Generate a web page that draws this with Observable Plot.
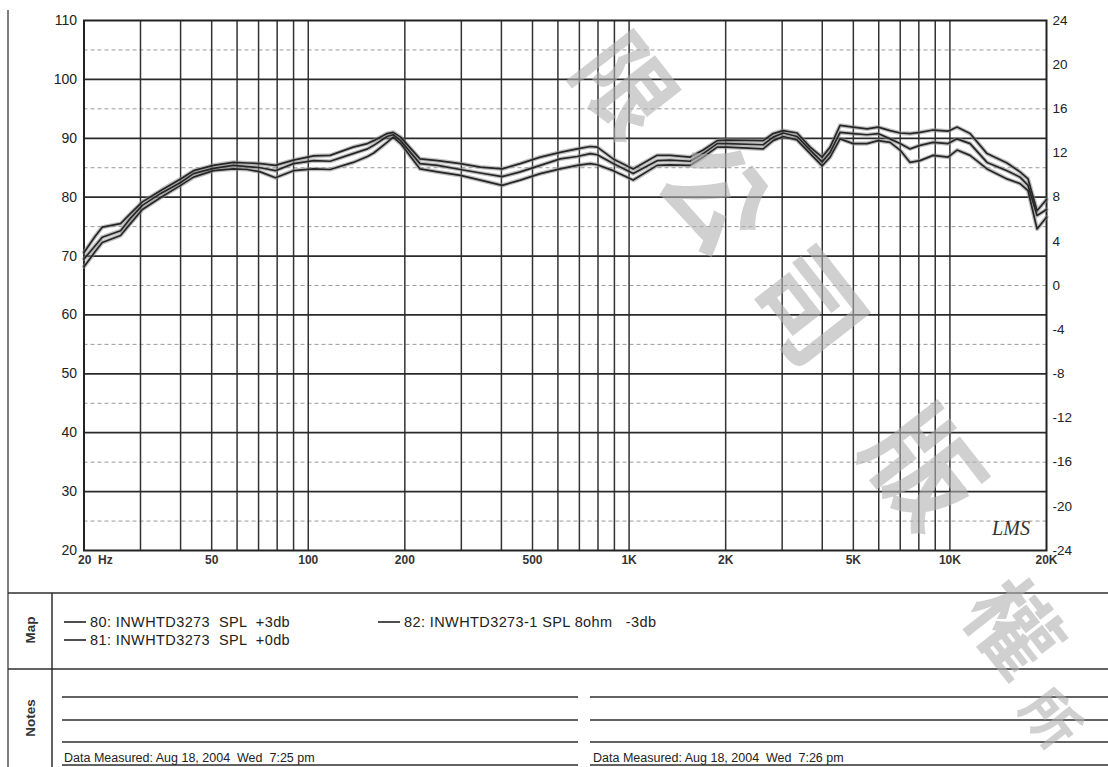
<!DOCTYPE html>
<html>
<head>
<meta charset="utf-8">
<script src="https://cdn.jsdelivr.net/npm/d3@7"></script>
<script src="https://cdn.jsdelivr.net/npm/@observablehq/plot@0.6"></script>
<style>
  html, body { margin: 0; padding: 0; background: #fff; }
  #wrap { position: relative; width: 1108px; height: 767px; overflow: hidden; background: #fff;
          font-family: Arial, "Liberation Sans", Helvetica, sans-serif; }
  #chart { position: absolute; left: 0; top: 0; }
  svg.overlay { position: absolute; left: 0; top: 0; pointer-events: none; }
  .pre { white-space: pre; }
</style>
</head>
<body>
<div id="wrap">
  <div id="chart"></div>
</div>
<script>
// ---------------- data ----------------
const freqHz = [20, 21.7, 22.8, 26, 27.9, 30.4, 34.6, 40, 43.9, 50.6,
  58.4, 64.6, 70.9, 79, 89.9, 104, 117, 138, 153, 160,
  176, 184, 194, 223, 253, 298, 344, 402, 458, 529,
  610, 689, 757, 796, 892, 1030, 1223, 1343, 1550, 1702,
  1882, 2022, 2618, 2812, 3022, 3340, 3668, 3996, 4232, 4546,
  4992, 5518, 5972, 6510, 6992, 7512, 8070, 8862, 9866, 10524,
  11556, 13052, 15064, 16540, 17520, 18690, 20000];

const spl80 = [70.6, 73.4, 74.9, 75.5, 77.2, 79.2, 81.1, 83.1, 84.5, 85.4,
  85.9, 85.8, 85.7, 85.4, 86.3, 87.0, 87.1, 88.5, 89.1, 89.6,
  90.8, 91.0, 90.2, 86.5, 86.2, 85.7, 85.1, 84.8, 85.7, 86.8,
  87.6, 88.2, 88.6, 88.5, 86.5, 84.8, 87.1, 87.1, 86.8, 88.0,
  89.6, 89.7, 89.6, 90.8, 91.3, 90.9, 88.5, 86.8, 88.5, 92.2,
  91.9, 91.6, 91.9, 91.3, 90.9, 90.8, 91.0, 91.4, 91.2, 91.9,
  90.8, 87.4, 85.8, 84.3, 83.1, 77.7, 79.6];

const spl81 = [69.5, 71.8, 73.2, 74.3, 76.4, 78.6, 80.6, 82.5, 84.0, 84.9,
  85.4, 85.2, 85.0, 84.5, 85.7, 86.2, 86.1, 87.4, 88.2, 88.8,
  90.3, 90.6, 89.6, 85.7, 85.4, 84.7, 84.1, 83.5, 84.3, 85.4,
  86.5, 86.9, 87.4, 87.2, 85.7, 84.0, 86.2, 86.3, 86.1, 87.4,
  89.1, 89.1, 88.9, 90.2, 90.9, 90.3, 88.0, 86.0, 87.6, 91.0,
  90.8, 90.6, 90.8, 89.9, 89.1, 88.2, 88.8, 89.3, 89.1, 89.9,
  89.1, 85.9, 84.5, 83.4, 82.0, 76.9, 77.9];

const spl82 = [68.2, 70.8, 72.3, 73.5, 75.5, 77.9, 79.9, 82.0, 83.4, 84.5,
  84.8, 84.7, 84.3, 83.3, 84.5, 84.8, 84.7, 85.9, 86.9, 87.5,
  89.3, 90.2, 89.1, 84.8, 84.3, 83.7, 82.9, 82.0, 82.9, 84.0,
  84.8, 85.4, 85.7, 85.5, 84.5, 82.9, 85.4, 85.5, 85.4, 86.8,
  88.5, 88.5, 88.2, 89.6, 90.3, 89.7, 87.4, 85.3, 86.8, 89.9,
  89.1, 89.1, 89.6, 89.3, 88.0, 85.9, 86.2, 87.1, 86.8, 88.0,
  87.1, 84.8, 83.1, 82.3, 81.1, 74.6, 76.6];

const seriesNames = ["80", "81", "82"];
const legendLabels = [
  "80: INWHTD3273  SPL  +3db",
  "81: INWHTD3273  SPL  +0db",
  "82: INWHTD3273-1 SPL 8ohm   -3db"
];

const xTickValues = [20, 50, 100, 200, 500, 1000, 2000, 5000, 10000, 20000];
const xTickLabels = ["20\u00a0\u00a0Hz", "50", "100", "200", "500", "1K", "2K", "5K", "10K", "20K"];
const xGridValues = [30, 40, 50, 60, 70, 80, 90, 100, 200, 300, 400, 500, 600, 700, 800, 900,
  1000, 2000, 3000, 4000, 5000, 6000, 7000, 8000, 9000, 10000];

const yLeftTicks = [20, 30, 40, 50, 60, 70, 80, 90, 100, 110];
const yMajorGrid = [30, 40, 50, 60, 70, 80, 90, 100];
const yMinorGrid = [25, 35, 45, 55, 65, 75, 85, 95, 105];
const yRightTicks = [24, 20, 16, 12, 8, 4, 0, -4, -8, -12, -16, -20, -24];

const notesDates = ["Data Measured: Aug 18, 2004  Wed  7:25 pm", "Data Measured: Aug 18, 2004  Wed  7:26 pm"];
const watermarkChars = ["限", "公", "司", "版", "權", "所"];

// right axis (dB relative) maps linearly onto the left SPL axis: -24 -> 20, +24 -> 110
const rightToLeft = r => 20 + (r + 24) * 90 / 48;
const leftToRight = v => Math.round((v - 20) * 48 / 90 - 24);

// ---------------- build rows ----------------
const allSeries = [spl80, spl81, spl82];
const rows = [];
allSeries.forEach((vals, si) => {
  vals.forEach((v, i) => rows.push({s: seriesNames[si], f: freqHz[i], v}));
});
const xLabelMap = new Map(xTickValues.map((d, i) => [d, xTickLabels[i]]));

const FONT = "Arial, 'Liberation Sans', Helvetica, sans-serif";

const chart = Plot.plot({
  width: 1108,
  height: 580,
  marginLeft: 83.5,
  marginRight: 62,
  marginTop: 20,
  marginBottom: 30,
  style: {fontFamily: FONT, color: "#222", background: "transparent", overflow: "visible"},
  x: {type: "log", domain: [20, 20000], axis: null, label: null},
  y: {domain: [20, 110], axis: null, label: null},
  marks: [
    Plot.ruleY(yMinorGrid, {stroke: "#9a9a9a", strokeWidth: 1, strokeDasharray: "4,3"}),
    Plot.ruleX(xGridValues, {stroke: "#333", strokeWidth: 1.5}),
    Plot.ruleY(yMajorGrid, {stroke: "#2a2a2a", strokeWidth: 1.7}),
    Plot.frame({stroke: "#222", strokeWidth: 2}),
    // scan-like halo then dark core for the three curves
    Plot.line(rows, {x: "f", y: "v", z: "s", stroke: "#8d8d8d", strokeWidth: 4.2, strokeOpacity: 0.55}),
    Plot.line(rows, {x: "f", y: "v", z: "s", stroke: "#262626", strokeWidth: 1.7}),
    // left axis
    Plot.axisY(yLeftTicks, {anchor: "left", tickSize: 0, tickPadding: 7, fontSize: 14, fill: "#222", label: null}),
    // right axis
    Plot.axisY(yRightTicks.map(rightToLeft), {anchor: "right", tickSize: 0, tickPadding: 6, fontSize: 13.5,
      fill: "#222", label: null, tickFormat: v => String(leftToRight(v))}),
    // bottom labels
    Plot.text(xTickValues.slice(0, 1), {x: d => d, frameAnchor: "bottom", dy: 13, dx: -6, textAnchor: "start",
      text: d => xLabelMap.get(d), fontSize: 12, fontWeight: "bold", fill: "#333"}),
    Plot.text(xTickValues.slice(1), {x: d => d, frameAnchor: "bottom", dy: 13,
      text: d => xLabelMap.get(d), fontSize: 12, fontWeight: "bold", fill: "#333"}),
    // handwritten mark
    Plot.text(["LMS"], {x: () => 15500, y: () => 23.8, text: d => d, fontSize: 20, fontStyle: "italic",
      fontFamily: "'Liberation Serif', 'DejaVu Serif', serif", fill: "#333"})
  ]
});
document.getElementById("chart").appendChild(chart);

// ---------------- form section (Map / Notes) ----------------
const wrap = d3.select("#wrap");
const form = wrap.append("svg").attr("class", "overlay").attr("width", 1108).attr("height", 767)
  .style("font-family", FONT);

const ln = (x1, y1, x2, y2, w = 1.5, c = "#2e2e2e") =>
  form.append("line").attr("x1", x1).attr("y1", y1).attr("x2", x2).attr("y2", y2)
    .attr("stroke", c).attr("stroke-width", w);

ln(8, 10, 8, 767, 1.5, "#555");
ln(8, 593, 1108, 593, 1.6);
ln(52, 593, 52, 767, 1.5);
ln(8, 669, 1108, 669, 1.6);

form.append("text").attr("transform", "translate(35,630) rotate(-90)").attr("text-anchor", "middle")
  .attr("font-size", 13.5).attr("font-weight", "bold").attr("fill", "#333").text("Map");
form.append("text").attr("transform", "translate(35,718) rotate(-90)").attr("text-anchor", "middle")
  .attr("font-size", 13.5).attr("font-weight", "bold").attr("fill", "#333").text("Notes");

const legendPos = [[64, 622], [64, 640], [378, 622]];
legendLabels.forEach((lab, i) => {
  const [lx, ly] = legendPos[i];
  ln(lx, ly, lx + 22, ly, 1.6, "#222");
  form.append("text").attr("class", "pre").attr("x", lx + 26).attr("y", ly + 5)
    .attr("font-size", 14.5).attr("letter-spacing", 0.4).attr("fill", "#222").text(lab);
});

[697, 720, 742, 765].forEach(y => {
  ln(62, y, 578, y, 1.3);
  ln(590, y, 1108, y, 1.3);
});
notesDates.forEach((t, i) => {
  form.append("text").attr("class", "pre").attr("x", i === 0 ? 64 : 593).attr("y", 762)
    .attr("font-size", 12.5).attr("fill", "#222").text(t);
});

// ---------------- watermark ----------------
const wm = wrap.append("svg").attr("class", "overlay").attr("width", 1108).attr("height", 767);
const wmPos = [[630, 82], [722, 192], [814, 302], [930, 463], [1018, 624], [1054, 716]];
const wmSize = [96, 104, 108, 112, 90, 56];
watermarkChars.forEach((c, i) => {
  const [cx, cy] = wmPos[i];
  wm.append("text").attr("x", cx).attr("y", cy)
    .attr("transform", `rotate(52 ${cx} ${cy})`)
    .attr("text-anchor", "middle").attr("dominant-baseline", "central")
    .attr("font-family", "'Noto Sans CJK TC', 'Noto Sans CJK SC', sans-serif")
    .attr("font-size", wmSize[i]).attr("font-weight", "bold")
    .attr("fill", "#b0b0b0").attr("fill-opacity", 0.6)
    .text(c);
});
</script>
</body>
</html>
